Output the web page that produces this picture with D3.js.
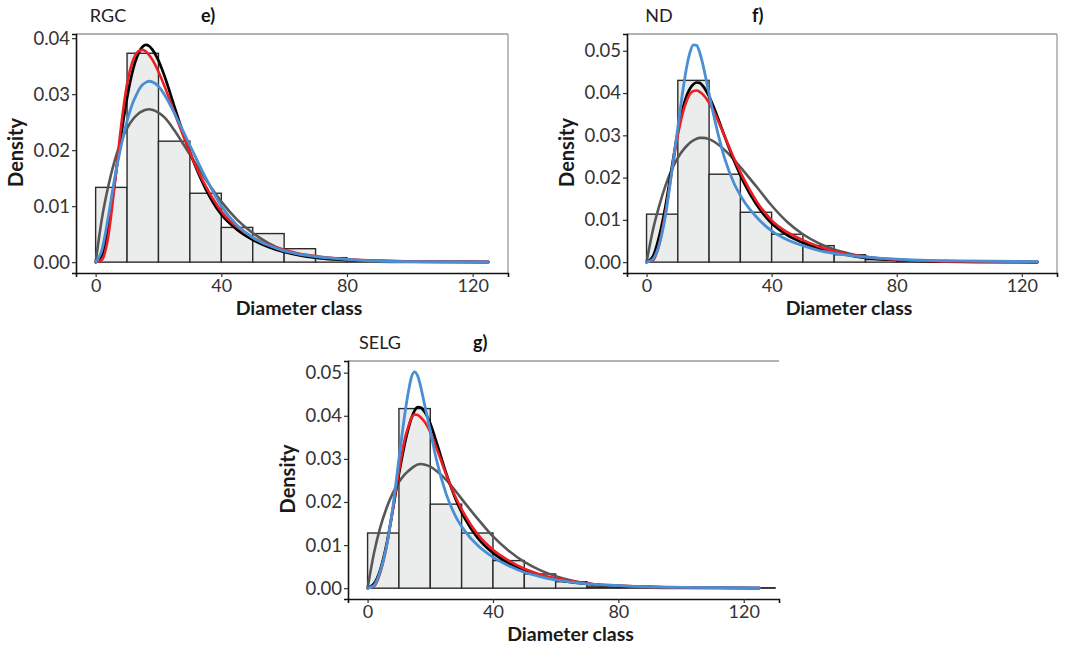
<!DOCTYPE html>
<html>
<head>
<meta charset="utf-8">
<script src="https://cdn.jsdelivr.net/npm/d3@7"></script>
<style>
  html, body { margin: 0; padding: 0; background: #ffffff; }
  svg text { font-family: Lato, "Open Sans", sans-serif; }
</style>
</head>
<body>
<svg id="fig" width="1066" height="645"></svg>
<script>
// Diameter values (cm) at which the fitted density curves are tabulated
const diameter = [0, 2, 4, 6, 8, 10, 12, 13, 14, 15, 16, 17, 18, 20, 22, 25, 28, 31, 35, 40, 45, 50, 55, 60, 65, 70, 80, 90, 100, 125];

// Axis ticks
const xTicks = [0, 40, 80, 120];
const yTicksRGC = [0, 0.01, 0.02, 0.03, 0.04];
const yTicksND = [0, 0.01, 0.02, 0.03, 0.04, 0.05];
const yTicksSELG = [0, 0.01, 0.02, 0.03, 0.04, 0.05];

// Histogram densities, 10 cm diameter classes starting at 0
const binWidth = 10;
const histRGC = [0.01335, 0.0373, 0.0216, 0.0123, 0.0062, 0.0051, 0.0024, 0.0008, 0.0003, 0.0002, 0.0001, 0.0001];
const histND = [0.01135, 0.0430, 0.0208, 0.0118, 0.0066, 0.0039, 0.00175, 0.0006, 0.0002, 0.0001, 0.0001, 0.0001];
const histSELG = [0.0128, 0.04167, 0.0195, 0.0128, 0.0064, 0.0033, 0.0015, 0.0003, 0.0002, 0.0001, 0.0001, 0.0001, 0.0001];

// Fitted density curves, RGC
const blackRGC = [0, 0.0012, 0.0062, 0.0140, 0.0222, 0.0293, 0.0346, 0.0364, 0.0377, 0.0385, 0.0388, 0.0386, 0.0380, 0.0360, 0.0331, 0.0279, 0.0228, 0.0182, 0.0131, 0.0085, 0.0058, 0.0040, 0.0027, 0.0018, 0.0012, 0.0008, 0.0004, 0.0002, 0.0001, 0.00002];
const redRGC = [0, 0.0004, 0.0045, 0.0135, 0.0238, 0.0318, 0.0362, 0.0373, 0.0378, 0.0379, 0.0376, 0.0370, 0.0362, 0.0340, 0.0313, 0.0268, 0.0224, 0.0183, 0.0136, 0.0091, 0.0063, 0.0044, 0.0031, 0.0022, 0.0015, 0.0011, 0.0005, 0.0003, 0.00015, 0.00004];
const blueRGC = [0, 0.0022, 0.0080, 0.0148, 0.0205, 0.0252, 0.0287, 0.0299, 0.0310, 0.0317, 0.0321, 0.0323, 0.0322, 0.0314, 0.0298, 0.0267, 0.0232, 0.0197, 0.0151, 0.0100, 0.0066, 0.0044, 0.0030, 0.0020, 0.0014, 0.0010, 0.0005, 0.0002, 0.0001, 0.00002];
const grayRGC = [0, 0.0078, 0.0135, 0.0180, 0.0214, 0.0239, 0.0256, 0.0262, 0.0267, 0.0270, 0.0272, 0.0273, 0.0272, 0.0267, 0.0258, 0.0236, 0.0210, 0.0183, 0.0148, 0.0108, 0.0076, 0.0052, 0.0034, 0.0021, 0.0013, 0.0008, 0.0003, 0.0001, 0.00004, 0];

// Fitted density curves, ND
const blackND = [0, 0.0013, 0.0060, 0.0130, 0.0220, 0.0308, 0.0375, 0.0397, 0.0412, 0.0421, 0.0425, 0.0424, 0.0417, 0.0392, 0.0357, 0.0297, 0.0240, 0.0190, 0.0138, 0.0092, 0.0064, 0.0046, 0.0033, 0.0024, 0.0016, 0.0010, 0.0005, 0.0002, 0.0001, 0.00002];
const redND = [0, 0.0004, 0.0040, 0.0115, 0.0210, 0.0300, 0.0364, 0.0385, 0.0399, 0.0405, 0.0406, 0.0403, 0.0397, 0.0377, 0.0349, 0.0297, 0.0245, 0.0198, 0.0146, 0.0099, 0.0071, 0.0052, 0.0037, 0.0026, 0.0018, 0.0012, 0.0006, 0.0003, 0.00015, 0.00004];
const blueND = [0, 0.0007, 0.0040, 0.0108, 0.0210, 0.0318, 0.0425, 0.0468, 0.0499, 0.0514, 0.0513, 0.0496, 0.0468, 0.0398, 0.0330, 0.0245, 0.0186, 0.0146, 0.0108, 0.0074, 0.0053, 0.0039, 0.0028, 0.0021, 0.0016, 0.0012, 0.0007, 0.0004, 0.0003, 0.0001];
const grayND = [0, 0.0075, 0.0132, 0.0180, 0.0218, 0.0247, 0.0268, 0.0276, 0.0283, 0.0288, 0.0292, 0.0294, 0.0294, 0.0291, 0.0283, 0.0265, 0.0242, 0.0216, 0.0180, 0.0134, 0.0095, 0.0066, 0.0045, 0.0030, 0.0020, 0.0013, 0.0005, 0.0002, 0.00005, 0];

// Fitted density curves, SELG
const blackSELG = [0, 0.0010, 0.0042, 0.0100, 0.0180, 0.0265, 0.0340, 0.0370, 0.0395, 0.0412, 0.0420, 0.0419, 0.0411, 0.0382, 0.0338, 0.0268, 0.0208, 0.0162, 0.0118, 0.0082, 0.0058, 0.0041, 0.0029, 0.0020, 0.0014, 0.0010, 0.0005, 0.0003, 0.00015, 0.00004];
const redSELG = [0, 0.0004, 0.0035, 0.0095, 0.0180, 0.0272, 0.0350, 0.0375, 0.0395, 0.0403, 0.0402, 0.0396, 0.0388, 0.0362, 0.0325, 0.0265, 0.0212, 0.0170, 0.0126, 0.0089, 0.0064, 0.0045, 0.0032, 0.0023, 0.0016, 0.0011, 0.0006, 0.0003, 0.00015, 0.00004];
const blueSELG = [0, 0.0006, 0.0038, 0.0095, 0.0185, 0.0300, 0.0410, 0.0455, 0.0490, 0.0502, 0.0492, 0.0466, 0.0432, 0.0365, 0.0297, 0.0220, 0.0168, 0.0133, 0.0100, 0.0072, 0.0052, 0.0037, 0.0027, 0.0019, 0.0014, 0.0010, 0.0006, 0.0003, 0.0002, 0.00005];
const graySELG = [0, 0.0080, 0.0140, 0.0185, 0.0220, 0.0246, 0.0265, 0.0272, 0.0278, 0.0283, 0.0287, 0.0288, 0.0287, 0.0282, 0.0272, 0.0252, 0.0226, 0.0198, 0.0162, 0.0120, 0.0087, 0.0061, 0.0042, 0.0028, 0.0018, 0.0011, 0.0004, 0.0001, 0.00003, 0];

// Curve styling, drawn in this order
const curveStyles = [
  { key: "gray", color: "#575757", width: 2.6 },
  { key: "black", color: "#000000", width: 2.7 },
  { key: "red", color: "#ee1d23", width: 2.6 },
  { key: "blue", color: "#4a8fd4", width: 2.8 }
];

const panels = [
  { site: "RGC", tag: "e)", hist: histRGC, yTicks: yTicksRGC,
    curves: { black: blackRGC, red: redRGC, blue: blueRGC, gray: grayRGC },
    box: { left: 76, right: 508, top: 34, bottom: 273 }, rightBorder: true },
  { site: "ND", tag: "f)", hist: histND, yTicks: yTicksND,
    curves: { black: blackND, red: redND, blue: blueND, gray: grayND },
    box: { left: 627, right: 1057, top: 34, bottom: 273 }, rightBorder: true },
  { site: "SELG", tag: "g)", hist: histSELG, yTicks: yTicksSELG,
    curves: { black: blackSELG, red: redSELG, blue: blueSELG, gray: graySELG },
    box: { left: 348, right: 779, top: 361, bottom: 599 }, rightBorder: false }
];

const svg = d3.select("#fig");
svg.append("rect").attr("width", 1066).attr("height", 645).attr("fill", "#ffffff");

const fmtY = d3.format(".2f");

panels.forEach(p => {
  const b = p.box;
  const g = svg.append("g");

  // x runs 0..125 with 5% padding on each side
  const xMin = 0, xMax = 125, xPad = (xMax - xMin) * 0.05;
  const x = d3.scaleLinear().domain([xMin - xPad, xMax + xPad]).range([b.left, b.right]);

  const allVals = p.hist.concat(...Object.values(p.curves));
  const yMax = d3.max(allVals);
  const y = d3.scaleLinear().domain([-0.05 * yMax, 1.05 * yMax]).range([b.bottom, b.top]);

  // panel border (top / right)
  g.append("line").attr("x1", b.left).attr("x2", b.right).attr("y1", b.top).attr("y2", b.top)
    .attr("stroke", "#9a9a9a").attr("stroke-width", 1.3);
  if (p.rightBorder) {
    g.append("line").attr("x1", b.right).attr("x2", b.right).attr("y1", b.top).attr("y2", b.bottom)
      .attr("stroke", "#9a9a9a").attr("stroke-width", 1.3);
  }

  // histogram
  g.append("g").selectAll("rect").data(p.hist).join("rect")
    .attr("x", (d, i) => x(i * binWidth))
    .attr("width", (d, i) => x((i + 1) * binWidth) - x(i * binWidth))
    .attr("y", d => y(d))
    .attr("height", d => y(0) - y(d))
    .attr("fill", "#ebeded")
    .attr("stroke", "#2b2b2b")
    .attr("stroke-width", 1.4);

  // fitted density curves
  const line = d3.line()
    .x((d, i) => x(diameter[i]))
    .y(d => y(d))
    .curve(d3.curveMonotoneX);
  curveStyles.forEach(s => {
    g.append("path").datum(p.curves[s.key])
      .attr("d", line)
      .attr("fill", "none")
      .attr("stroke", s.color)
      .attr("stroke-width", s.width)
      .attr("stroke-linejoin", "round")
      .attr("stroke-linecap", "round");
  });

  // axes
  const xAxis = d3.axisBottom(x).tickValues(xTicks).tickSize(4).tickPadding(2).tickFormat(d3.format("d"));
  const gx = g.append("g").attr("transform", `translate(0,${b.bottom})`).call(xAxis);
  gx.select(".domain").attr("stroke", "#111").attr("stroke-width", 1.6);
  gx.selectAll(".tick line").attr("stroke", "#333").attr("stroke-width", 1.2);
  gx.selectAll(".tick text").attr("font-size", 18).attr("fill", "#333")
    .attr("font-family", "Lato, 'Open Sans', sans-serif");

  const yAxis = d3.axisLeft(y).tickValues(p.yTicks).tickSize(4).tickPadding(2).tickFormat(fmtY);
  const gy = g.append("g").attr("transform", `translate(${b.left},0)`).call(yAxis);
  gy.select(".domain").attr("stroke", "#111").attr("stroke-width", 1.6);
  gy.selectAll(".tick line").attr("stroke", "#333").attr("stroke-width", 1.2);
  gy.selectAll(".tick text").attr("font-size", 18.5).attr("fill", "#333")
    .attr("font-family", "Lato, 'Open Sans', sans-serif");

  // axis titles
  const cx = (b.left + b.right) / 2 + 7;
  g.append("text").attr("x", cx).attr("y", b.bottom + 42)
    .attr("text-anchor", "middle").attr("font-size", 19.5).attr("font-weight", 700)
    .attr("fill", "#1a1a1a").text("Diameter class");
  const cy = (b.top + b.bottom) / 2 - 1;
  g.append("text").attr("transform", `translate(${b.left - 53},${cy}) rotate(-90)`)
    .attr("text-anchor", "middle").attr("font-size", 20).attr("font-weight", 700)
    .attr("fill", "#1a1a1a").text("Density");

  // site label and panel tag
  g.append("text").attr("x", b.left + 32).attr("y", b.top - 12)
    .attr("text-anchor", "middle").attr("font-size", 18).attr("fill", "#222").text(p.site);
  g.append("text").attr("x", b.left + 125).attr("y", b.top - 12)
    .attr("font-size", 18).attr("font-weight", 700).attr("fill", "#111").text(p.tag);
});
</script>
</body>
</html>
